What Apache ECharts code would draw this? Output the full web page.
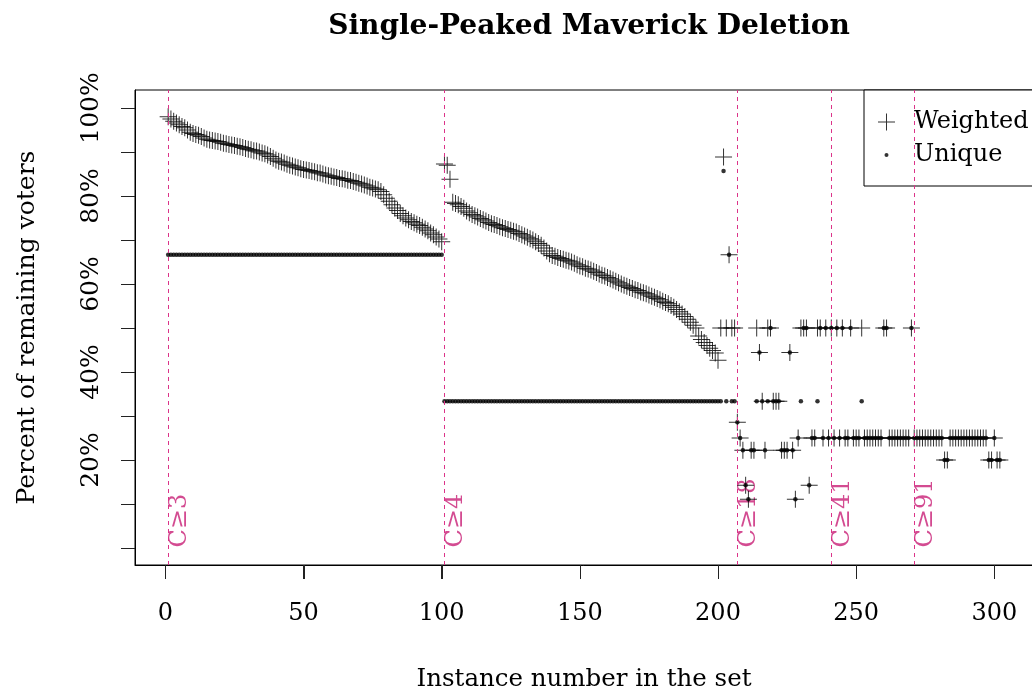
<!DOCTYPE html>
<html>
<head>
<meta charset="utf-8">
<title>Single-Peaked Maverick Deletion</title>
<script src="https://cdn.jsdelivr.net/npm/echarts@6/dist/echarts.min.js"></script>
<style>
  html, body { margin: 0; padding: 0; background: #ffffff; }
  #chart { width: 1032px; height: 693px; }
</style>
</head>
<body>
<div id="chart"></div>
<script>
// Percent of remaining voters after maverick deletion, per instance (sorted within each group).
// Instances 1-100 (C = 3)
const weightedC3 = [
  98.0, 97.5, 97.0, 96.6, 96.2, 95.8, 95.5, 95.0, 94.5, 94.2,
  94.0, 93.8, 93.5, 93.2, 92.9, 92.7, 92.6, 92.5, 92.4, 92.2,
  92.0, 91.9, 91.7, 91.6, 91.5, 91.3, 91.2, 91.0, 90.8, 90.6,
  90.5, 90.3, 90.2, 90.0, 89.8, 89.6, 89.3, 89.0, 88.6, 88.2,
  87.9, 87.7, 87.5, 87.2, 87.0, 86.8, 86.6, 86.4, 86.2, 86.0,
  85.9, 85.8, 85.6, 85.5, 85.3, 85.2, 85.0, 84.8, 84.6, 84.5,
  84.3, 84.2, 84.0, 83.9, 83.8, 83.6, 83.5, 83.3, 83.1, 82.9,
  82.7, 82.5, 82.3, 82.0, 81.8, 81.6, 81.4, 81.0, 80.3, 79.5,
  78.8, 78.0, 77.3, 76.7, 76.0, 75.5, 75.0, 74.6, 74.2, 73.9,
  73.6, 73.3, 72.9, 72.5, 72.1, 71.6, 71.2, 70.7, 70.2, 69.6
];
const uniqueC3 = [
  66.67, 66.67, 66.67, 66.67, 66.67, 66.67, 66.67, 66.67, 66.67, 66.67,
  66.67, 66.67, 66.67, 66.67, 66.67, 66.67, 66.67, 66.67, 66.67, 66.67,
  66.67, 66.67, 66.67, 66.67, 66.67, 66.67, 66.67, 66.67, 66.67, 66.67,
  66.67, 66.67, 66.67, 66.67, 66.67, 66.67, 66.67, 66.67, 66.67, 66.67,
  66.67, 66.67, 66.67, 66.67, 66.67, 66.67, 66.67, 66.67, 66.67, 66.67,
  66.67, 66.67, 66.67, 66.67, 66.67, 66.67, 66.67, 66.67, 66.67, 66.67,
  66.67, 66.67, 66.67, 66.67, 66.67, 66.67, 66.67, 66.67, 66.67, 66.67,
  66.67, 66.67, 66.67, 66.67, 66.67, 66.67, 66.67, 66.67, 66.67, 66.67,
  66.67, 66.67, 66.67, 66.67, 66.67, 66.67, 66.67, 66.67, 66.67, 66.67,
  66.67, 66.67, 66.67, 66.67, 66.67, 66.67, 66.67, 66.67, 66.67, 66.67
];

// Instances 101-200 (C = 4 .. 17)
const weightedC4 = [
  87.3, 87.0, 83.8, 78.6, 78.3, 78.0, 77.6, 77.2, 76.6, 76.2,
  75.8, 75.5, 75.2, 74.9, 74.6, 74.3, 74.0, 73.7, 73.5, 73.3,
  73.0, 72.8, 72.6, 72.4, 72.2, 72.0, 71.8, 71.5, 71.2, 70.9,
  70.6, 70.3, 70.0, 69.6, 69.2, 68.8, 68.2, 67.5, 66.9, 66.5,
  66.3, 66.0, 65.8, 65.6, 65.4, 65.2, 65.0, 64.7, 64.4, 64.1,
  63.9, 63.6, 63.4, 63.2, 62.9, 62.6, 62.3, 62.0, 61.8, 61.5,
  61.2, 60.9, 60.6, 60.3, 60.0, 59.7, 59.5, 59.2, 59.0, 58.7,
  58.5, 58.2, 58.0, 57.8, 57.5, 57.2, 57.0, 56.7, 56.4, 56.1,
  55.8, 55.5, 55.1, 54.7, 54.2, 53.7, 53.2, 52.6, 52.0, 51.3,
  50.6, 50.0, 48.2, 47.4, 46.7, 46.0, 45.4, 44.9, 44.3, 42.7
];
const uniqueC4 = [
  33.33, 33.33, 33.33, 33.33, 33.33, 33.33, 33.33, 33.33, 33.33, 33.33,
  33.33, 33.33, 33.33, 33.33, 33.33, 33.33, 33.33, 33.33, 33.33, 33.33,
  33.33, 33.33, 33.33, 33.33, 33.33, 33.33, 33.33, 33.33, 33.33, 33.33,
  33.33, 33.33, 33.33, 33.33, 33.33, 33.33, 33.33, 33.33, 33.33, 33.33,
  33.33, 33.33, 33.33, 33.33, 33.33, 33.33, 33.33, 33.33, 33.33, 33.33,
  33.33, 33.33, 33.33, 33.33, 33.33, 33.33, 33.33, 33.33, 33.33, 33.33,
  33.33, 33.33, 33.33, 33.33, 33.33, 33.33, 33.33, 33.33, 33.33, 33.33,
  33.33, 33.33, 33.33, 33.33, 33.33, 33.33, 33.33, 33.33, 33.33, 33.33,
  33.33, 33.33, 33.33, 33.33, 33.33, 33.33, 33.33, 33.33, 33.33, 33.33,
  33.33, 33.33, 33.33, 33.33, 33.33, 33.33, 33.33, 33.33, 33.33, 33.33
];

// Instances 201-302 (larger C)
const weightedC18 = [
  50.00, 88.89, 50.00, 66.67, 50.00, 50.00, 28.57, 25.00, 22.22, 14.29,
  11.11, 22.22, 22.22, 50.00, 44.44, 33.33, 22.22, 50.00, 50.00, 33.33,
  33.33, 33.33, 22.22, 22.22, 22.22, 44.44, 22.22, 11.11, 25.00, 50.00,
  50.00, 50.00, 14.29, 25.00, 25.00, 50.00, 50.00, 25.00, 50.00,
  25.00, 50.00, 25.00, 50.00, 25.00, 50.00, 25.00, 25.00, 50.00, 25.00,
  25.00, 25.00, 50.00, 25.00, 25.00, 25.00, 25.00, 25.00, 25.00, 25.00,
  50.00, 50.00, 25.00, 25.00, 25.00, 25.00, 25.00, 25.00, 25.00, 25.00,
  50.00, 25.00, 25.00, 25.00, 25.00, 25.00, 25.00, 25.00, 25.00, 25.00,
  25.00, 25.00, 20.00, 20.00, 25.00, 25.00, 25.00, 25.00, 25.00, 25.00,
  25.00, 25.00, 25.00, 25.00, 25.00, 25.00, 25.00, 25.00, 20.00, 20.00,
  25.00, 20.00, 20.00
];
const uniqueC18 = [
  33.33, 85.71, 33.33, 66.67, 33.33, 33.33, 28.57, 25.00, 22.22, 14.29,
  11.11, 22.22, 22.22, 33.33, 44.44, 33.33, 22.22, 33.33, 50.00, 33.33,
  33.33, 33.33, 22.22, 22.22, 22.22, 44.44, 22.22, 11.11, 25.00, 33.33,
  50.00, 50.00, 14.29, 25.00, 25.00, 33.33, 50.00, 25.00, 50.00,
  25.00, 50.00, 25.00, 50.00, 25.00, 50.00, 25.00, 25.00, 50.00, 25.00,
  25.00, 25.00, 33.33, 25.00, 25.00, 25.00, 25.00, 25.00, 25.00, 25.00,
  50.00, 50.00, 25.00, 25.00, 25.00, 25.00, 25.00, 25.00, 25.00, 25.00,
  50.00, 25.00, 25.00, 25.00, 25.00, 25.00, 25.00, 25.00, 25.00, 25.00,
  25.00, 25.00, 20.00, 20.00, 25.00, 25.00, 25.00, 25.00, 25.00, 25.00,
  25.00, 25.00, 25.00, 25.00, 25.00, 25.00, 25.00, 25.00, 20.00, 20.00,
  25.00, 20.00, 20.00
];

const firstInstance = 1;

// Instances where a new candidate-count group starts
const thresholdInstances = [1, 101, 207, 241, 271];
const thresholdLabels = ['C≥3', 'C≥4', 'C≥18', 'C≥41', 'C≥91'];

// Axis ticks
const xTicks = [0, 50, 100, 150, 200, 250, 300];
const xTickLabels = [0, 50, 100, 150, 200, 250, 300];
const yTicks = [0, 10, 20, 30, 40, 50, 60, 70, 80, 90, 100];
const yTickLabels = [20, 40, 60, 80, 100];

const X_MIN = -11, X_MAX = 314;
const Y_MIN = -3.86, Y_MAX = 104.09;
const TICK_LEN = 14;

const FONT = 'DejaVu Serif';
const PINK_LINE = '#DC3389';
const PINK_TEXT = '#C81E76';

const toPoints = (values) => values.map((v, k) => [firstInstance + k, v]);
const weightedPts = toPoints(weightedC3.concat(weightedC4, weightedC18));
const uniquePts = toPoints(uniqueC3.concat(uniqueC4, uniqueC18));

// "+" mark drawn as two thin bars in a 17x17 box
const PLUS = 'path://M0,8H17V9H0Z M8,0H9V17H8Z';
// Legend icons: same marks, padded on the right to leave room before the text
const PLUS_LEGEND = 'path://M0,0L0,0 M31,17L31,17 M0,8H17V9H0Z M8,0H9V17H8Z';
const DOT_LEGEND = 'path://M0,0L0,0 M31,17L31,17 M10.5,8.5A2,2,0,1,1,6.5,8.5A2,2,0,1,1,10.5,8.5Z';

const chart = echarts.init(document.getElementById('chart'), null, { renderer: 'canvas' });

chart.setOption({
  animation: false,
  backgroundColor: '#ffffff',
  title: {
    text: 'Single-Peaked Maverick Deletion',
    left: 584,
    top: 8,
    textAlign: 'center',
    textStyle: { fontFamily: FONT, fontWeight: 'bold', fontSize: 28, color: '#000' }
  },
  legend: {
    orient: 'vertical',
    left: 864,
    top: 90,
    padding: [19, 40, 18, 14],
    itemGap: 7,
    itemWidth: 31,
    itemHeight: 17,
    borderColor: '#000',
    borderWidth: 1,
    borderRadius: 0,
    backgroundColor: '#fff',
    textStyle: { fontFamily: FONT, fontSize: 24, color: '#000', lineHeight: 26 },
    data: [
      { name: 'Weighted', icon: PLUS_LEGEND },
      { name: 'Unique', icon: DOT_LEGEND }
    ]
  },
  grid: {
    left: 135,
    top: 90,
    right: -1,
    bottom: 128,
    show: true,
    outerBoundsMode: 'none',
    containLabel: false,
    borderColor: '#000',
    borderWidth: 1,
    backgroundColor: 'transparent'
  },
  xAxis: {
    type: 'value',
    position: 'bottom',
    min: X_MIN,
    max: X_MAX,
    name: 'Instance number in the set',
    nameLocation: 'middle',
    nameGap: 102,
    nameTextStyle: { fontFamily: FONT, fontSize: 24.5, color: '#000' },
    axisLine: { show: true, onZero: false, lineStyle: { color: '#000', width: 1 } },
    splitLine: { show: false },
    axisTick: {
      show: true, inside: false, length: TICK_LEN,
      customValues: xTicks,
      lineStyle: { color: '#222', width: 1 }
    },
    axisLabel: {
      customValues: xTickLabels,
      margin: 37,
      fontFamily: FONT, fontSize: 24, color: '#000'
    }
  },
  yAxis: {
    type: 'value',
    position: 'left',
    min: Y_MIN,
    max: Y_MAX,
    name: 'Percent of remaining voters',
    nameLocation: 'middle',
    nameGap: 95,
    nameRotate: 90,
    nameTextStyle: { fontFamily: FONT, fontSize: 25, color: '#000' },
    axisLine: { show: true, onZero: false, lineStyle: { color: '#000', width: 1 } },
    splitLine: { show: false },
    axisTick: {
      show: true, inside: false, length: TICK_LEN,
      customValues: yTicks,
      lineStyle: { color: '#222', width: 1 }
    },
    axisLabel: {
      customValues: yTickLabels,
      rotate: 90,
      margin: 31,
      formatter: (v) => v + '%',
      fontFamily: FONT, fontSize: 25, color: '#000'
    }
  },
  series: [
    {
      name: 'Weighted',
      type: 'scatter',
      symbol: PLUS,
      symbolSize: 17,
      itemStyle: { color: '#000' },
      data: weightedPts,
      z: 3,
      markLine: {
        silent: true,
        symbol: 'none',
        label: { show: false },
        lineStyle: { color: PINK_LINE, type: [4, 4], width: 1 },
        data: thresholdInstances.map((v) => ({ xAxis: v }))
      }
    },
    {
      name: 'Unique',
      type: 'scatter',
      symbol: 'circle',
      symbolSize: 4.5,
      itemStyle: { color: '#000' },
      data: uniquePts,
      z: 4
    },
    {
      // group labels at the foot of each separator line
      name: 'groups',
      type: 'scatter',
      symbolSize: 1,
      itemStyle: { color: 'rgba(0,0,0,0)' },
      silent: true,
      z: 2,
      data: thresholdInstances.map((v, k) => ({ name: thresholdLabels[k], value: [v, 0] })),
      label: {
        show: true,
        formatter: '{b}',
        position: [0, 0],
        rotate: 90,
        align: 'left',
        verticalAlign: 'top',
        fontFamily: FONT,
        fontSize: 24,
        color: PINK_TEXT
      }
    }
  ]
});

// Outward tick marks under the x axis, placed through the axis scale
const tickLines = xTicks.map((v) => {
  const p = chart.convertToPixel({ gridIndex: 0 }, [v, Y_MIN]);
  const x = Math.round(p[0]) + 0.5;
  const y = Math.round(p[1]);
  return {
    type: 'line',
    silent: true,
    z: 100,
    shape: { x1: x, y1: y, x2: x, y2: y + TICK_LEN },
    style: { stroke: '#222', lineWidth: 1 }
  };
});
chart.setOption({ graphic: { elements: tickLines } });
</script>
</body>
</html>
